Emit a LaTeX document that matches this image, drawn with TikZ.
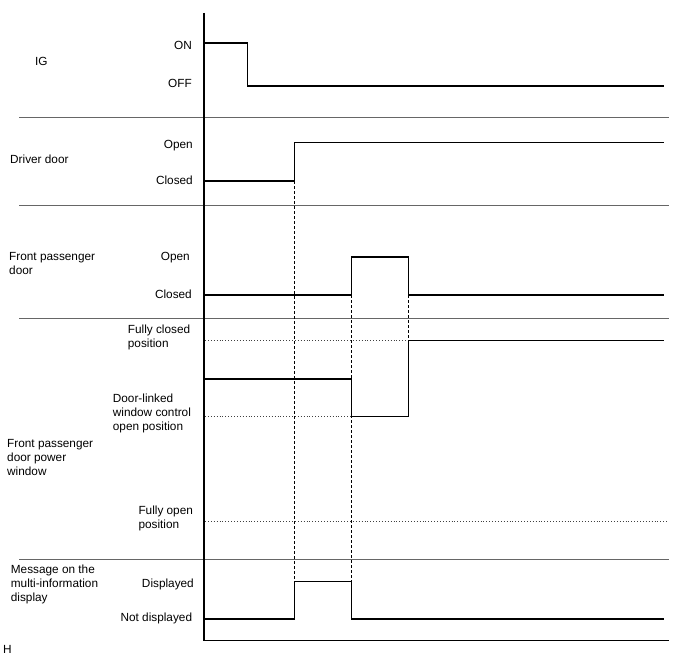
\documentclass[tikz,border=0pt]{standalone}
\usepackage{fontspec}
\setmainfont{Liberation Sans}
\begin{document}
\begin{tikzpicture}[x=1pt,y=-1pt,
  lbl/.style={inner sep=0pt, font=\fontsize{11.8}{14}\selectfont},
  rlbl/.style={lbl, anchor=base east},
  llbl/.style={lbl, anchor=north west, align=left},
  wave/.style={line width=1.5pt, line join=miter},
  sep/.style={line width=1pt, draw=black!60},
  axis/.style={line width=1.5pt},
  guide/.style={line width=1.3pt, dash pattern=on 3pt off 2pt},
  dots/.style={line width=0.9pt, dash pattern=on 0.9pt off 2pt, draw=black!75}]
\useasboundingbox (0,0) rectangle (688,658);

% separators
\foreach \yy in {117.7,205.7,318.7,559} \draw[sep] (19,\yy) -- (668.7,\yy);

% dotted reference lines
\draw[dots] (205,340.3) -- (408.7,340.3);
\draw[dots] (205,416.7) -- (351.7,416.7);
\draw[dots] (205,521.7) -- (668.7,521.7);

% dashed guides
\coordinate (g1t) at (294.3,181);
\coordinate (g1b) at (294.3,581.3);
\coordinate (g2t) at (351.7,295);
\coordinate (g2b) at (351.7,581.3);
\coordinate (g3t) at (408.7,295);
\coordinate (g3b) at (408.7,340.3);
\draw[guide] (g1t) -- (g1b);
\draw[guide] (g2t) -- (g2b);
\draw[guide] (g3t) -- (g3b);

% axis
\coordinate (axT) at (204,13);
\coordinate (axB) at (204,640.7);
\coordinate (axR) at (668.7,640.7);
\draw[axis] (axT) -- (axB) -- (axR);

% waveforms
\draw[wave] (204,43) -- (247.7,43) -- (247.7,86) -- (664.3,86);
\draw[wave] (204,181) -- (294.3,181) -- (294.3,142.7) -- (664.3,142.7);
\draw[wave] (204,295) -- (351.7,295) -- (351.7,257) -- (408.7,257) -- (408.7,295) -- (664.3,295);
\draw[wave] (204,379) -- (351.7,379) -- (351.7,416.7) -- (408.7,416.7) -- (408.7,340.3) -- (664.3,340.3);
\draw[wave] (204,619) -- (294.3,619) -- (294.3,581.3) -- (351.7,581.3) -- (351.7,619) -- (664.3,619);

% right-aligned level labels
\node[rlbl] (on) at (192,49.3) {ON};
\node[rlbl] (off) at (192,88) {OFF};
\node[rlbl] (dopen) at (193,149) {Open};
\node[rlbl] (dclosed) at (193,184.5) {Closed};
\node[rlbl] (fopen) at (190,260.3) {Open};
\node[rlbl] (fclosed) at (192,298.3) {Closed};
\node[rlbl] (disp) at (194,587.7) {Displayed};
\node[rlbl] (ndisp) at (192.3,621.7) {Not displayed};

% left-aligned labels
\node[lbl, anchor=base west] (ig) at (35,65.3) {IG};
\node[lbl, anchor=base west] (drv) at (10,164) {Driver door};
\node[llbl] (fpd) at (9,251.8) {Front passenger\\door};
\node[llbl] (fpw) at (7,439.6) {Front passenger\\door power\\window};
\node[llbl] (msg) at (10.7,564.8) {Message on the\\multi-information\\display};
\node[llbl] (fcl) at (127.7,324.8) {Fully closed\\position};
\node[llbl] (dlw) at (112.7,393.8) {Door-linked\\window control\\open position};
\node[llbl] (fop) at (138.3,505.5) {Fully open\\position};
\node[lbl, anchor=base west] (h) at (3,653.3) {H};
\end{tikzpicture}
\end{document}
